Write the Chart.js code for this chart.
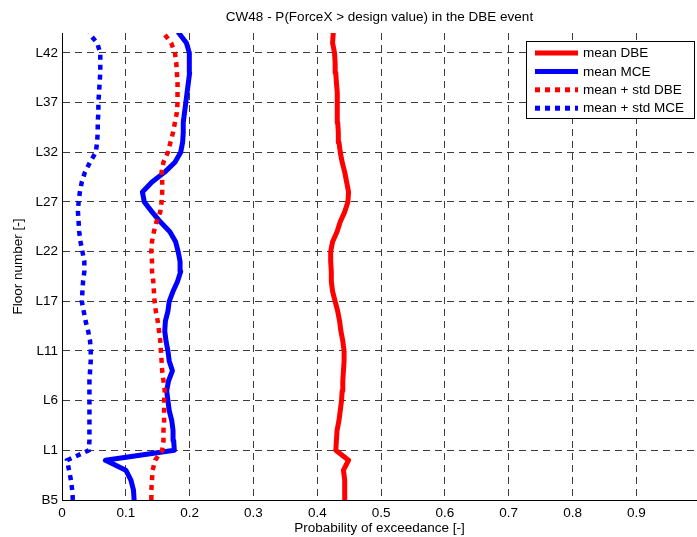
<!DOCTYPE html>
<html><head><meta charset="utf-8">
<script src="https://cdn.jsdelivr.net/npm/chart.js@4"></script>
<style>html,body{margin:0;padding:0;background:#fff;overflow:hidden}#wrap{width:697px;height:537px;position:relative}</style>
</head><body><div id="wrap"><canvas id="c" width="697" height="537"></canvas></div>
<script>
const floors = ['B5','B4','B3','B2','B1','L1','L2','L3','L4','L5','L6','L7','L8','L9','L10','L11','L12','L14','L15','L16','L17','L18','L19','L20','L21','L22','L23','L24','L25','L26','L27','L28','L29','L30','L31','L32','L33','L34','L35','L36','L37','L38','L39','L40','L41','L42','L43','L44'];
const yTickLabels = ['B5','L1','L6','L11','L17','L22','L27','L32','L37','L42'];
const xTickValues = [0,0.1,0.2,0.3,0.4,0.5,0.6,0.7,0.8,0.9];
const seriesNames = ['mean DBE','mean MCE','mean + std DBE','mean + std MCE'];
const meanDBE = [0.443,0.443,0.443,0.441,0.449,0.429,0.430,0.431,0.434,0.436,0.438,0.439,0.440,0.441,0.442,0.442,0.440,0.437,0.435,0.432,0.428,0.424,0.422,0.422,0.421,0.421,0.424,0.431,0.436,0.443,0.448,0.449,0.446,0.443,0.439,0.436,0.434,0.433,0.432,0.432,0.431,0.431,0.430,0.429,0.428,0.427,0.424,0.425];
const meanMCE = [0.113,0.112,0.108,0.100,0.068,0.176,0.175,0.174,0.172,0.168,0.166,0.164,0.167,0.173,0.168,0.166,0.163,0.161,0.162,0.166,0.168,0.174,0.181,0.186,0.185,0.182,0.178,0.169,0.154,0.141,0.129,0.126,0.141,0.161,0.177,0.186,0.189,0.190,0.190,0.192,0.194,0.196,0.198,0.200,0.200,0.199,0.195,0.183];
const stdDBE = [0.140,0.140,0.141,0.142,0.146,0.157,0.159,0.159,0.160,0.160,0.160,0.161,0.159,0.157,0.156,0.155,0.154,0.152,0.150,0.147,0.145,0.144,0.143,0.141,0.141,0.140,0.141,0.144,0.148,0.154,0.156,0.157,0.157,0.156,0.159,0.166,0.170,0.174,0.177,0.180,0.181,0.181,0.181,0.180,0.179,0.177,0.171,0.159];
const stdMCE = [0.017,0.016,0.014,0.011,0.008,0.042,0.043,0.043,0.043,0.043,0.043,0.043,0.043,0.044,0.045,0.045,0.044,0.041,0.037,0.034,0.031,0.032,0.033,0.035,0.035,0.032,0.029,0.027,0.026,0.025,0.026,0.028,0.031,0.036,0.044,0.053,0.055,0.056,0.056,0.057,0.057,0.058,0.059,0.060,0.060,0.060,0.055,0.042];

const FONT = '"Liberation Sans", Arial, Helvetica, sans-serif';
const FS = 13.5;
const pts = arr => arr.map((v, i) => ({x: v, y: i}));

const legendBox = {
  id: 'matlabLegend',
  afterDraw(chart) {
    const {ctx, chartArea} = chart;
    const ds = chart.data.datasets;
    const w = 169, h = 78, rowH = 18.4;
    const right = chartArea.right - 2, top = chartArea.top + 8;
    const left = right - w;
    ctx.save();
    ctx.fillStyle = '#fff';
    ctx.fillRect(left, top, w, h);
    ctx.strokeStyle = '#000'; ctx.lineWidth = 1; ctx.setLineDash([]);
    ctx.strokeRect(Math.round(left) + 0.5, Math.round(top) + 0.5, w - 1, h - 1);
    ctx.font = FS + 'px ' + FONT;
    ctx.textBaseline = 'middle';
    ds.forEach((d, i) => {
      const y = top + 12 + i * rowH;
      ctx.beginPath();
      ctx.strokeStyle = d.borderColor;
      ctx.lineWidth = 5;
      ctx.lineCap = 'butt';
      ctx.setLineDash(d.borderDash || []);
      ctx.moveTo(left + 9, y); ctx.lineTo(left + 52, y);
      ctx.stroke();
      ctx.setLineDash([]);
      ctx.fillStyle = '#000';
      ctx.fillText(d.label, left + 57, y + 0.5);
    });
    ctx.restore();
  }
};

new Chart(document.getElementById('c'), {
  type: 'scatter',
  data: {
    datasets: [
      {label: seriesNames[0], data: pts(meanDBE), borderColor: '#ff0000', backgroundColor: '#ff0000', borderWidth: 5, showLine: true, order: 3, borderJoinStyle: 'round', borderCapStyle: 'round'},
      {label: seriesNames[1], data: pts(meanMCE), borderColor: '#0000ff', backgroundColor: '#0000ff', borderWidth: 5, showLine: true, order: 2, borderJoinStyle: 'round', borderCapStyle: 'round'},
      {label: seriesNames[2], data: pts(stdDBE), borderColor: '#ff0000', backgroundColor: '#ff0000', borderWidth: 4.5, borderDash: [5, 5], showLine: true, order: 1, borderCapStyle: 'butt'},
      {label: seriesNames[3], data: pts(stdMCE), borderColor: '#0000ff', backgroundColor: '#0000ff', borderWidth: 4.5, borderDash: [5, 5], showLine: true, order: 0, borderCapStyle: 'butt'}
    ]
  },
  options: {
    responsive: false,
    animation: false,
    devicePixelRatio: 1,
    layout: {padding: 0},
    elements: {point: {radius: 0, hoverRadius: 0}, line: {tension: 0}},
    plugins: {
      legend: {display: false},
      tooltip: {enabled: false},
      title: {
        display: true,
        text: 'CW48 - P(ForceX > design value) in the DBE event',
        fullSize: false,
        color: '#000',
        font: {family: FONT, size: FS, weight: 'normal'},
        padding: {top: 9.5, bottom: 7.3}
      }
    },
    scales: {
      x: {
        type: 'linear', min: 0, max: 0.995,
        afterBuildTicks: s => { s.ticks = xTickValues.map(v => ({value: v})); },
        afterFit: s => { s.height = 37; },
        ticks: {color: '#000', font: {family: FONT, size: FS}, padding: 5, maxRotation: 0, autoSkip: false,
          callback: v => (v === 0 ? '0' : v.toFixed(1))},
        grid: {color: '#3c3c3c', lineWidth: 1, drawTicks: false},
        border: {display: true, color: '#000', width: 1, dash: [7, 5]},
        title: {display: true, text: 'Probability of exceedance [-]', color: '#000', font: {family: FONT, size: FS}, padding: {top: 0, bottom: 1}}
      },
      y: {
        type: 'linear', min: 0, max: floors.length - 1,
        afterBuildTicks: s => { s.ticks = yTickLabels.map(l => ({value: floors.indexOf(l)})); },
        afterFit: s => { s.width = 62; },
        ticks: {color: '#000', font: {family: FONT, size: FS}, padding: 4, autoSkip: false,
          callback: v => floors[v]},
        grid: {color: '#3c3c3c', lineWidth: 1, drawTicks: false},
        border: {display: true, color: '#000', width: 1, dash: [7, 5]},
        title: {display: true, text: 'Floor number [-]', color: '#000', font: {family: FONT, size: FS}, padding: {top: 10, bottom: 0}}
      }
    }
  },
  plugins: [legendBox]
});
</script>
</body></html>
